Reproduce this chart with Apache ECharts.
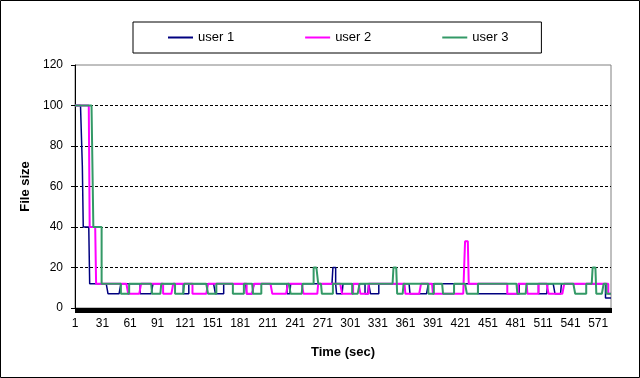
<!DOCTYPE html>
<html lang="en">
<head>
    <meta charset="UTF-8">
    <title>File size per user</title>
    <script type="text/javascript" src="https://cdn.jsdelivr.net/npm/echarts@6/dist/echarts.min.js"></script>
    <style>
        html, body { margin: 0; padding: 0; background: #fff; }
    </style>
</head>
<body>
<div id="main" style="height: 378px; width: 640px"></div>
<script>
    // number of time samples (sec) on the x axis
    let sampleCount = 585;
    let baseLevel = 12;

    // segments that leave the base level: [from, to, value]
    let user1Segments = [
        [1, 8, 100], [9, 9, 70], [10, 16, 40],
        [37, 50, 7], [72, 85, 7], [119, 124, 7], [154, 162, 7], [188, 195, 7],
        [232, 235, 7], [282, 284, 20], [286, 292, 7], [317, 320, 7], [323, 331, 7],
        [366, 385, 7], [440, 484, 7], [506, 515, 7], [524, 530, 7], [579, 585, 5]
    ];
    let user2Segments = [
        [1, 16, 100], [17, 23, 40],
        [59, 72, 7], [97, 107, 7], [129, 145, 7], [188, 195, 7], [216, 232, 7],
        [250, 265, 7], [292, 303, 7], [312, 320, 7], [361, 377, 7], [391, 425, 7],
        [426, 429, 33], [472, 483, 7], [494, 505, 7], [517, 533, 7], [582, 585, 7]
    ];
    let user3Segments = [
        [1, 20, 100], [21, 29, 40],
        [51, 59, 7], [85, 94, 7], [110, 119, 7], [146, 154, 7], [173, 184, 7],
        [195, 203, 7], [236, 248, 7], [261, 265, 20], [270, 281, 7], [303, 310, 7],
        [348, 351, 20], [352, 358, 7], [386, 391, 7], [402, 413, 7], [428, 439, 7],
        [483, 492, 7], [546, 557, 7], [565, 568, 20], [569, 576, 7], [580, 585, 7]
    ];

    let times = [];
    for (let i = 1; i <= sampleCount; i++) times.push(String(i));

    function expand(segments) {
        let values = times.map(function () { return baseLevel; });
        segments.forEach(function (s) {
            for (let t = s[0]; t <= s[1]; t++) values[t - 1] = s[2];
        });
        return values;
    }

    let font = 'Liberation Sans, Arial, sans-serif';
    let myChart = echarts.init(document.getElementById('main'));
    let option = {
        animation: false,
        backgroundColor: '#fff',
        textStyle: {fontFamily: font},
        graphic: [{
            type: 'rect',
            shape: {x: 0.5, y: 0.5, width: 639, height: 377},
            style: {fill: 'none', stroke: '#000', lineWidth: 1}
        }],
        legend: {
            left: 133,
            top: 22,
            padding: [9, 33, 9, 35],
            borderColor: '#000',
            borderWidth: 1,
            itemGap: 71,
            itemWidth: 25,
            itemHeight: 2,
            icon: 'rect',
            textStyle: {fontFamily: font, fontSize: 13, color: '#000'},
            data: ['user 1', 'user 2', 'user 3']
        },
        grid: {
            left: 75, right: 29, top: 65, bottom: 70,
            show: true, borderColor: '#808080', borderWidth: 1, backgroundColor: '#fff'
        },
        xAxis: {
            type: 'category',
            data: times,
            boundaryGap: false,
            name: 'Time (sec)',
            nameLocation: 'middle',
            nameGap: 38,
            nameTextStyle: {fontWeight: 'bold', fontSize: 13, color: '#000', fontFamily: font},
            axisLine: {lineStyle: {color: '#000', width: 1}},
            axisTick: {interval: 0, length: 5, lineStyle: {color: '#000'}},
            axisLabel: {interval: 29, color: '#000', fontSize: 12, margin: 10, fontFamily: font},
            splitLine: {show: false}
        },
        yAxis: {
            type: 'value',
            min: 0, max: 120, interval: 20,
            name: 'File size',
            nameLocation: 'middle',
            nameGap: 43,
            nameTextStyle: {fontWeight: 'bold', fontSize: 13, color: '#000', fontFamily: font},
            axisLine: {show: true, lineStyle: {color: '#000', width: 1}},
            axisTick: {show: true, length: 4, lineStyle: {color: '#000'}},
            axisLabel: {color: '#000', fontSize: 12, margin: 12, fontFamily: font},
            splitLine: {show: true, showMinLine: false, showMaxLine: false, lineStyle: {color: '#000', type: [3, 2], width: 1}}
        },
        series: [
            {name: 'user 1', type: 'line', step: 'end', symbol: 'none', data: expand(user1Segments),
                itemStyle: {color: '#000080'}, lineStyle: {color: '#000080', width: 1.5}},
            {name: 'user 2', type: 'line', step: 'end', symbol: 'none', data: expand(user2Segments),
                itemStyle: {color: '#ff00ff'}, lineStyle: {color: '#ff00ff', width: 2}},
            {name: 'user 3', type: 'line', step: 'end', symbol: 'none', data: expand(user3Segments),
                itemStyle: {color: '#339966'}, lineStyle: {color: '#339966', width: 2}}
        ]
    };
    myChart.setOption(option);
</script>
</body>
</html>
